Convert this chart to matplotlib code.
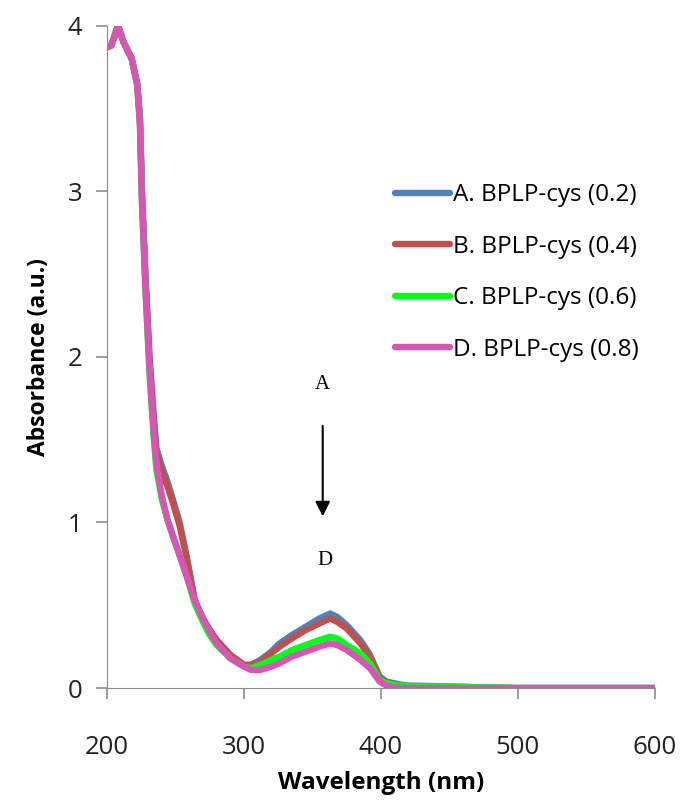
import numpy as np
import matplotlib
matplotlib.use("Agg")
import matplotlib.pyplot as plt

# wavelength grid (nm) and absorbance
wl = [200, 203, 206, 208, 212, 215, 218, 222, 224, 225.5, 228, 231, 234, 236, 240, 244,
      248, 253, 258, 264, 270, 275, 280, 290, 300, 305, 312, 320, 326, 335, 345, 355,
      363, 368, 375, 385, 392, 399, 404, 409, 415, 420, 450, 470, 500, 600]
abs_a = [3.87, 3.88, 3.95, 4.00, 3.90, 3.85, 3.80, 3.65, 3.45, 3.00, 2.50, 2.00, 1.65, 1.45, 1.34, 1.25,
         1.14, 1.00, 0.80, 0.53, 0.42, 0.35, 0.29, 0.20, 0.14, 0.14, 0.17, 0.22, 0.27, 0.32, 0.37, 0.42,
         0.45, 0.43, 0.38, 0.29, 0.20, 0.07, 0.04, 0.03, 0.02, 0.015, 0.01, 0.005, 0.0, 0.0]
abs_b = [3.87, 3.88, 3.95, 4.00, 3.90, 3.85, 3.80, 3.65, 3.44, 2.98, 2.48, 1.98, 1.62, 1.42, 1.30, 1.22,
         1.12, 0.98, 0.79, 0.53, 0.42, 0.35, 0.29, 0.20, 0.14, 0.14, 0.16, 0.21, 0.25, 0.30, 0.35, 0.39,
         0.42, 0.40, 0.36, 0.27, 0.19, 0.06, 0.035, 0.025, 0.015, 0.01, 0.005, 0.0, 0.0, 0.0]
abs_c = [3.87, 3.88, 3.95, 4.00, 3.90, 3.85, 3.80, 3.64, 3.42, 2.95, 2.42, 1.90, 1.52, 1.32, 1.14, 1.02,
         0.92, 0.80, 0.68, 0.51, 0.40, 0.32, 0.26, 0.18, 0.13, 0.12, 0.14, 0.17, 0.19, 0.23, 0.26, 0.29,
         0.31, 0.30, 0.26, 0.21, 0.15, 0.05, 0.03, 0.02, 0.015, 0.01, 0.01, 0.005, 0.0, 0.0]
abs_d = [3.87, 3.88, 3.95, 4.00, 3.90, 3.85, 3.80, 3.64, 3.40, 2.92, 2.42, 1.92, 1.55, 1.36, 1.16, 1.02,
         0.92, 0.80, 0.68, 0.53, 0.42, 0.34, 0.27, 0.18, 0.13, 0.11, 0.11, 0.13, 0.15, 0.19, 0.22, 0.25,
         0.27, 0.26, 0.23, 0.17, 0.12, 0.04, 0.015, 0.005, 0.0, 0.0, 0.0, 0.0, 0.0, 0.0]

labels = ["A. BPLP-cys (0.2)", "B. BPLP-cys (0.4)", "C. BPLP-cys (0.6)", "D. BPLP-cys (0.8)"]
colors = ["#4f81bd", "#c0504d", "#00ff1a", "#d954b4"]
series = [abs_a, abs_b, abs_c, abs_d]

plt.rcParams["font.family"] = ["Open Sans", "DejaVu Sans"]

fig = plt.figure(figsize=(6.82, 8.01), dpi=100)
ax = fig.add_axes([0.157, 0.141, 0.803, 0.827])

for y, c, lab in zip(series, colors, labels):
    ax.plot(wl, y, color=c, lw=4.6, label=lab, solid_capstyle="round")

ax.set_xlim(200, 600)
ax.set_ylim(0, 4)
ax.set_xticks([200, 300, 400, 500, 600])
ax.set_yticks([0, 1, 2, 3, 4])
for s in ("top", "right"):
    ax.spines[s].set_visible(False)
for s in ("left", "bottom"):
    ax.spines[s].set_color("#8c8c8c")
ax.tick_params(colors="#8c8c8c", labelcolor="#222222", labelsize=18.5, length=8, width=1.2, pad=10)
ax.tick_params(axis="x", pad=26)
ax.set_xlabel("Wavelength (nm)", fontsize=17.5, fontweight="bold", labelpad=8)
ax.set_ylabel("Absorbance (a.u.)", fontsize=16.5, fontweight="bold", labelpad=12)

ax.legend(loc="upper left", bbox_to_anchor=(0.485, 0.795), frameon=False, fontsize=17.5,
          handlelength=2.3, handletextpad=0.1, labelspacing=1.13)

# A -> D annotation
ax.text(357.5, 1.83, "A", family="Liberation Serif", fontsize=15, ha="center", va="center")
ax.text(359, 0.77, "D", family="Liberation Serif", fontsize=15, ha="center", va="center")
ax.annotate("", xy=(357.5, 1.02), xytext=(357.5, 1.6),
            arrowprops=dict(arrowstyle="-|>", color="black", lw=1.5, mutation_scale=22))

fig.savefig("out.png", dpi=100)
